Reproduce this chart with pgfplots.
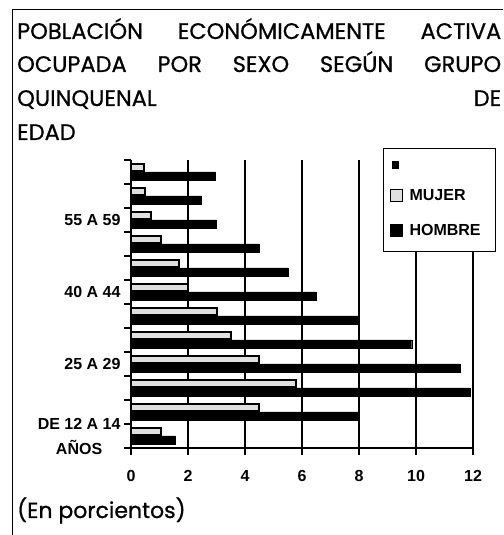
\documentclass[border=0pt]{standalone}
\usepackage{pgfplots}
\pgfplotsset{compat=1.18}
\usepackage{fontspec}
\setmainfont{Liberation Sans}
\newfontfamily\titlefont[FakeBold=0.8]{Poppins}

\pgfplotstableread{
cat mujer hombre
1  1.05 1.55
2  4.50 8.00
3  5.80 11.90
4  4.50 11.55
5  3.50 9.85
6  3.00 8.00
7  2.00 6.50
8  1.70 5.50
9  1.05 4.50
10 0.70 3.00
11 0.50 2.45
12 0.45 2.95
}\datos

\begin{document}
\begin{tikzpicture}[x=1pt,y=1pt]
\useasboundingbox (0,0) rectangle (503,535);
\draw[line width=1pt] (12,0) -- (12,525) -- (503,525);
\node[anchor=base west, inner sep=0, font=\titlefont\fontsize{22.5}{26}\selectfont] at (17,496) {\makebox[484pt][s]{POBLACIÓN ECONÓMICAMENTE ACTIVA}};
\node[anchor=base west, inner sep=0, font=\titlefont\fontsize{22.5}{26}\selectfont] at (17,463) {\makebox[484pt][s]{OCUPADA POR SEXO SEGÚN GRUPO}};
\node[anchor=base west, inner sep=0, font=\titlefont\fontsize{22.5}{26}\selectfont] at (17,429) {\makebox[484pt][s]{QUINQUENAL\hfill DE}};
\node[anchor=base west, inner sep=0, font=\titlefont\fontsize{22.5}{26}\selectfont] at (17,395) {EDAD};
\node[anchor=base west, inner sep=0, font=\titlefont\fontsize{22}{26}\selectfont] at (17,17) {(En porcientos)};

\begin{axis}[
  at={(131pt,87pt)}, anchor=south west,
  scale only axis, width=342pt, height=288pt,
  xbar,
  xmin=0, xmax=12, ymin=0.5, ymax=12.5,
  axis lines=left, axis line style={-, line width=1.3pt},
  xtick={0,2,...,12},
  xmajorgrids, grid style={black, line width=1.3pt},
  tick align=outside,
  major tick length=7pt,
  ytick={1,4,7,10},
  yticklabels={{DE 12 A 14\\[7pt]AÑOS},{25 A 29},{40 A 44},{55 A 59}},
  major y tick style={draw=none},
  minor ytick={0.5,1.5,...,12.5},
  minor tick length=7pt,
  minor y tick style={black, line width=1.3pt},
  major x tick style={black, line width=1.3pt},
  /pgf/number format/assume math mode=true,
  xticklabel style={font=\bfseries\fontsize{16}{18}\selectfont, yshift=-12pt},
  yticklabel style={align=center, font=\bfseries\fontsize{16}{18}\selectfont},
  legend style={at={(0.737,1.042)}, anchor=north west, draw=black, line width=1pt,
    fill=white, font=\bfseries\fontsize{16}{18}\selectfont, row sep=18pt,
    inner xsep=6pt, inner ysep=13pt, cells={anchor=west},
    /tikz/every odd column/.append style={column sep=5pt}},
  legend image code/.code={\draw[#1, line width=1pt] (0pt,-6pt) rectangle (12pt,6pt);},
]
\addlegendimage{legend image code/.code={\fill[black] (2pt,-3pt) rectangle (8pt,4pt);}}
\addlegendentry{\makebox[78pt][l]{}}
\addplot[xbar, bar width=7pt, bar shift=4.5pt, fill=black!12, draw=black, line width=2pt]
  table[x=mujer, y=cat] {\datos};
\addlegendentry{\makebox[78pt][l]{MUJER}}
\addplot[xbar, bar width=8pt, bar shift=-4pt, fill=black, draw=black]
  table[x=hombre, y=cat] {\datos};
\addlegendentry{\makebox[78pt][l]{HOMBRE}}
\end{axis}
\end{tikzpicture}
\end{document}
